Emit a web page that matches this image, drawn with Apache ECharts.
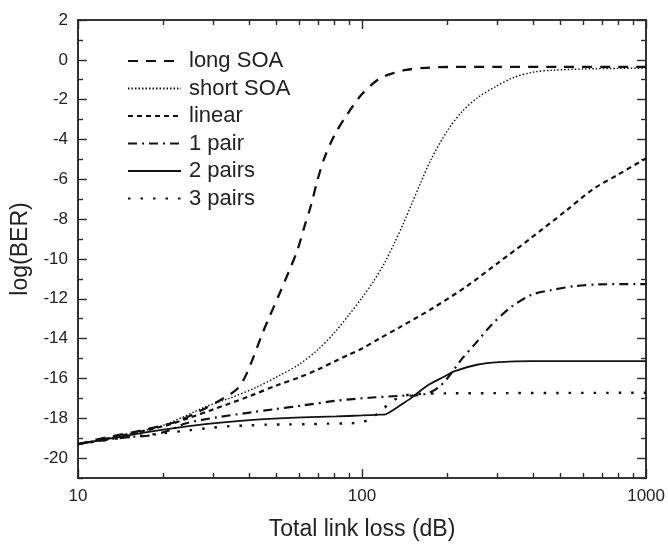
<!DOCTYPE html>
<html>
<head>
<meta charset="utf-8">
<script src="https://cdn.jsdelivr.net/npm/echarts@6/dist/echarts.min.js"></script>
<style>
html,body{margin:0;padding:0;background:#fff;}
#chart{width:668px;height:546px;}
</style>
</head>
<body>
<div id="chart"></div>
<script>
// ---- data ----
var seriesNames = ['long SOA', 'short SOA', 'linear', '1 pair', '2 pairs', '3 pairs'];

var longSoaX = [10, 12.7, 16.8, 21.9, 27.2, 32.8, 36.4, 38.5, 40.5, 44.6, 47.2, 51.2, 55.5, 59.2, 62.6, 66.2, 69.5, 73.6, 79.8, 87.9, 100, 115, 130, 143, 168, 200, 300, 500, 1000];
var longSoaY = [-19.3, -18.95, -18.6, -18.2, -17.6, -16.97, -16.52, -16.0, -15.3, -13.74, -12.9, -11.75, -10.56, -9.57, -8.4, -7.28, -6.1, -4.95, -3.81, -2.82, -1.72, -0.95, -0.65, -0.5, -0.4, -0.36, -0.35, -0.35, -0.35];

var shortSoaX = [10, 15, 20, 28.4, 34.1, 42.4, 51.2, 60, 70, 80, 90, 100, 110, 120, 130, 140, 150, 160, 175, 200, 225, 255, 295, 340, 400, 470, 600, 800, 1000];
var shortSoaY = [-19.3, -18.8, -18.35, -17.4, -17.0, -16.45, -15.85, -15.3, -14.55, -13.7, -12.8, -11.95, -11.1, -10.2, -9.2, -8.2, -7.2, -6.25, -5.0, -3.55, -2.6, -1.9, -1.35, -0.9, -0.62, -0.52, -0.46, -0.43, -0.42];

var linearX = [10, 15, 20, 25, 30, 40, 50, 60, 70, 80, 90, 100, 115, 135, 176, 232, 303, 395, 520, 650, 800, 1000];
var linearY = [-19.3, -18.8, -18.4, -17.95, -17.55, -16.9, -16.35, -15.95, -15.55, -15.15, -14.8, -14.5, -14.0, -13.45, -12.5, -11.4, -10.17, -8.93, -7.6, -6.5, -5.75, -4.95];

var pair1X = [10, 13, 15, 18.2, 21, 24, 31, 40.8, 49, 61.5, 81, 106, 138, 155, 170, 186, 202, 224, 251, 286, 336, 395, 464, 564, 679, 1000];
var pair1Y = [-19.3, -19.05, -18.95, -18.85, -18.6, -18.25, -17.95, -17.7, -17.55, -17.36, -17.12, -16.97, -16.87, -16.85, -16.75, -16.45, -15.9, -15.04, -14.24, -13.3, -12.4, -11.8, -11.56, -11.36, -11.28, -11.26];

var pair2X = [10, 13.2, 17.5, 22.8, 29.8, 39.2, 51, 61.5, 81, 100, 115, 121, 125, 130, 138, 150, 170, 195, 212, 256, 303, 395, 1000];
var pair2Y = [-19.3, -19.0, -18.7, -18.46, -18.26, -18.11, -18.01, -17.96, -17.91, -17.86, -17.82, -17.8, -17.7, -17.55, -17.3, -16.95, -16.35, -15.9, -15.63, -15.3, -15.18, -15.13, -15.13];

var pair3X = [10, 15, 20, 24.7, 28.4, 34, 40, 46, 54, 64, 75, 88, 100, 106, 115, 125, 135, 150, 200, 1000];
var pair3Y = [-19.3, -18.95, -18.75, -18.6, -18.5, -18.4, -18.36, -18.32, -18.31, -18.3, -18.27, -18.26, -18.2, -18.05, -17.7, -17.25, -16.95, -16.8, -16.75, -16.72];

var xMajorTicks = [10, 100, 1000];
var xMinorTicks = [20, 30, 40, 50, 60, 70, 80, 90, 200, 300, 400, 500, 600, 700, 800, 900];
var yLabelTicks = [-20, -18, -16, -14, -12, -10, -8, -6, -4, -2, 0, 2];
var yMin = -21, yMax = 2, yInterval = 1;

// ---- chart ----
function pairs(xs, ys) { return xs.map(function (x, i) { return [x, ys[i]]; }); }

var seriesData = [
  pairs(longSoaX, longSoaY),
  pairs(shortSoaX, shortSoaY),
  pairs(linearX, linearY),
  pairs(pair1X, pair1Y),
  pairs(pair2X, pair2Y),
  pairs(pair3X, pair3Y)
];
var lineStyles = [
  { width: 2.3, type: [10, 8] },
  { width: 1.4, type: [1.5, 2] },
  { width: 2.2, type: [5, 4] },
  { width: 2.2, type: [9, 5, 2, 5] },
  { width: 1.8, type: 'solid' },
  { width: 2.4, type: [2.5, 10] }
];

var axisCol = '#2a2a2a';
var txtCol = '#222';
var font = 'Liberation Sans, Arial, sans-serif';

function xAxisDef(pos, major, show) {
  return {
    type: 'log', logBase: 10, min: 10, max: 1000, position: pos, gridIndex: 0,
    axisLine: { show: true, onZero: false, lineStyle: { color: axisCol, width: 1.6 } },
    axisTick: { show: true, inside: true, length: major ? 9 : 5, lineStyle: { color: axisCol, width: 1.4 },
                customValues: major ? xMajorTicks : xMinorTicks },
    axisLabel: { show: show, color: txtCol, fontSize: 17, fontFamily: font, margin: 10,
                 customValues: xMajorTicks, formatter: function (v) { return String(Math.round(v)); } },
    splitLine: { show: false }, minorTick: { show: false }
  };
}
function yAxisDef(pos, major, show) {
  var minorVals = [];
  for (var v = yMin; v <= yMax; v += yInterval) { if (yLabelTicks.indexOf(v) < 0) minorVals.push(v); }
  return {
    type: 'value', min: yMin, max: yMax, interval: yInterval, position: pos,
    axisLine: { show: true, onZero: false, lineStyle: { color: axisCol, width: 1.6 } },
    axisTick: { show: true, inside: true, length: major ? 9 : 5, lineStyle: { color: axisCol, width: 1.4 },
                customValues: major ? yLabelTicks : minorVals },
    axisLabel: { show: show, color: txtCol, fontSize: 17, fontFamily: font, margin: 10,
                 customValues: yLabelTicks },
    splitLine: { show: false }, minorTick: { show: false }
  };
}

var bottomMajor = xAxisDef('bottom', true, true);
bottomMajor.name = 'Total link loss (dB)';
bottomMajor.nameLocation = 'middle';
bottomMajor.nameGap = 40;
bottomMajor.nameTextStyle = { color: txtCol, fontSize: 23, fontFamily: font };

var leftY = yAxisDef('left', true, true);
leftY.name = 'log(BER)';
leftY.nameLocation = 'middle';
leftY.nameGap = 45;
leftY.nameTextStyle = { color: txtCol, fontSize: 23, fontFamily: font };

var chart = echarts.init(document.getElementById('chart'), null, { renderer: 'canvas' });
chart.setOption({
  animation: false,
  backgroundColor: '#fff',
  grid: { left: 78, right: 20, top: 20, bottom: 63, containLabel: false },
  legend: {
    orient: 'vertical', left: 122, top: 44,
    itemWidth: 53, itemHeight: 14, itemGap: 3.5,
    itemStyle: { opacity: 0 },
    textStyle: { color: txtCol, fontSize: 22, fontFamily: font, lineHeight: 24, padding: [0, 0, 0, 3] },
    data: seriesNames
  },
  xAxis: [
    bottomMajor,
    xAxisDef('bottom', false, false),
    xAxisDef('top', true, false),
    xAxisDef('top', false, false)
  ],
  yAxis: [leftY, yAxisDef('left', false, false), yAxisDef('right', true, false), yAxisDef('right', false, false)],
  series: seriesNames.map(function (n, i) {
    return {
      name: n, type: 'line', xAxisIndex: 0, yAxisIndex: 0,
      data: seriesData[i], symbol: 'none', smooth: 0.3,
      lineStyle: Object.assign({ color: '#111', cap: 'butt' }, lineStyles[i]),
      itemStyle: { color: '#111' }
    };
  })
});
</script>
</body>
</html>
